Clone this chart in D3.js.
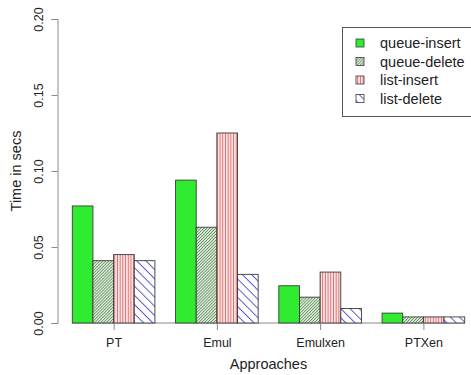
<!DOCTYPE html>
<html>
<head>
<meta charset="utf-8">
<script src="https://cdn.jsdelivr.net/npm/d3@7/dist/d3.min.js"></script>
<style>
  html, body { margin: 0; padding: 0; background: #fff; }
  svg { display: block; font-family: "Liberation Sans", Arial, Helvetica, sans-serif; }
</style>
</head>
<body>
<svg id="chart" width="471" height="375"></svg>
<script>
// Timing results per approach (seconds)
const approaches = ["PT", "Emul", "Emulxen", "PTXen"];
const seriesNames = ["queue-insert", "queue-delete", "list-insert", "list-delete"];
const queueInsert = [0.077, 0.094, 0.0245, 0.0065];
const queueDelete = [0.041, 0.063, 0.017, 0.004];
const listInsert  = [0.045, 0.125, 0.0335, 0.004];
const listDelete  = [0.041, 0.032, 0.0095, 0.004];
const yTicks = [0, 0.05, 0.10, 0.15, 0.20];

const series = [queueInsert, queueDelete, listInsert, listDelete];
const fills = ["#30ec30", "url(#hatchQD)", "url(#hatchLI)", "url(#hatchLD)"];

const svg = d3.select("#chart");

// Hatch patterns for the three shaded series
const defs = svg.append("defs");
function hatch(id, spacing, angle, color, width, bg) {
  const p = defs.append("pattern")
    .attr("id", id)
    .attr("patternUnits", "userSpaceOnUse")
    .attr("width", spacing).attr("height", spacing)
    .attr("patternTransform", `rotate(${angle})`);
  p.append("rect").attr("width", spacing).attr("height", spacing).attr("fill", bg);
  p.append("line")
    .attr("x1", spacing / 2).attr("x2", spacing / 2)
    .attr("y1", 0).attr("y2", spacing)
    .attr("stroke", color).attr("stroke-width", width);
}
hatch("hatchQD", 2.1, 45, "#5f8f5c", 0.8, "#e2eedf");
hatch("hatchLI", 2.7, 0, "#e46a6a", 1.0, "#fbeaea");
hatch("hatchLD", 6.5, -45, "#5a5ad0", 1.0, "#ffffff");

// Bar slots: each group holds 4 bars plus one gap, first bar starts at 1
const x = d3.scaleLinear().domain([0.24, 20.76]).range([56.6, 480.4]);
const y = d3.scaleLinear().domain([0, 0.2]).range([323, 19]);

const bars = [];
approaches.forEach((a, g) => {
  series.forEach((s, k) => {
    const start = 1 + g * 5 + k;
    bars.push({ a, k, start, v: s[g] });
  });
});

// Baseline under the bars
svg.append("line")
  .attr("x1", x(1)).attr("x2", x(20))
  .attr("y1", y(0)).attr("y2", y(0))
  .attr("stroke", "#8a8a8a").attr("stroke-width", 1);

svg.append("g").selectAll("rect")
  .data(bars)
  .join("rect")
  .attr("x", d => x(d.start))
  .attr("width", d => x(d.start + 1) - x(d.start))
  .attr("y", d => y(d.v))
  .attr("height", d => y(0) - y(d.v))
  .attr("fill", d => fills[d.k])
  .attr("stroke", "#3a3a3a")
  .attr("stroke-width", 0.9);

// Y axis
const yAxis = svg.append("g")
  .attr("transform", `translate(${x(0.24) + 0.9},0)`)
  .call(d3.axisLeft(y).tickValues(yTicks).tickFormat(d3.format(".2f")).tickSizeOuter(0).tickSize(6).tickPadding(0));
yAxis.select(".domain").attr("stroke", "#8a8a8a");
yAxis.selectAll(".tick line").attr("stroke", "#8a8a8a");
yAxis.selectAll(".tick text")
  .attr("x", null).attr("dy", null)
  .attr("transform", "translate(-15,0) rotate(-90)")
  .attr("text-anchor", "middle")
  .attr("fill", "#222")
  .style("font-size", "12.5px")
  .style("font-family", "Liberation Sans, Arial, sans-serif");

// X axis: ticks at group centres
const centers = approaches.map((a, g) => 1 + g * 5 + 2);
const xAxis = svg.append("g")
  .attr("transform", `translate(0,${y(0)})`)
  .call(d3.axisBottom(x).tickValues(centers)
    .tickFormat((d, i) => approaches[i]).tickSize(7).tickPadding(8));
xAxis.select(".domain").remove();
xAxis.selectAll(".tick line").attr("stroke", "#8a8a8a");
xAxis.selectAll(".tick text")
  .attr("fill", "#222")
  .style("font-size", "12.5px")
  .style("font-family", "Liberation Sans, Arial, sans-serif");

// Axis titles
svg.append("text")
  .attr("x", x(10.5)).attr("y", 369)
  .attr("text-anchor", "middle")
  .attr("fill", "#222")
  .style("font-size", "14.5px")
  .text("Approaches");

svg.append("text")
  .attr("transform", `translate(21,${y(0.1)}) rotate(-90)`)
  .attr("text-anchor", "middle")
  .attr("fill", "#222")
  .style("font-size", "14.5px")
  .text("Time in secs");

// Legend
const legend = svg.append("g");
legend.append("rect")
  .attr("x", 342.5).attr("y", 27.5)
  .attr("width", 140).attr("height", 89)
  .attr("fill", "#fff").attr("stroke", "#555").attr("stroke-width", 1);
const rows = legend.selectAll("g.row")
  .data(seriesNames)
  .join("g")
  .attr("class", "row")
  .attr("transform", (d, i) => `translate(0,${43 + i * 18.5})`);
rows.append("rect")
  .attr("x", 356).attr("y", -4).attr("width", 8).attr("height", 8)
  .attr("fill", (d, i) => fills[i])
  .attr("stroke", "#3a3a3a").attr("stroke-width", 0.8);
rows.append("text")
  .attr("x", 380).attr("y", 0).attr("dy", "0.36em")
  .attr("fill", "#222")
  .style("font-size", "14.5px")
  .text(d => d);
</script>
</body>
</html>
